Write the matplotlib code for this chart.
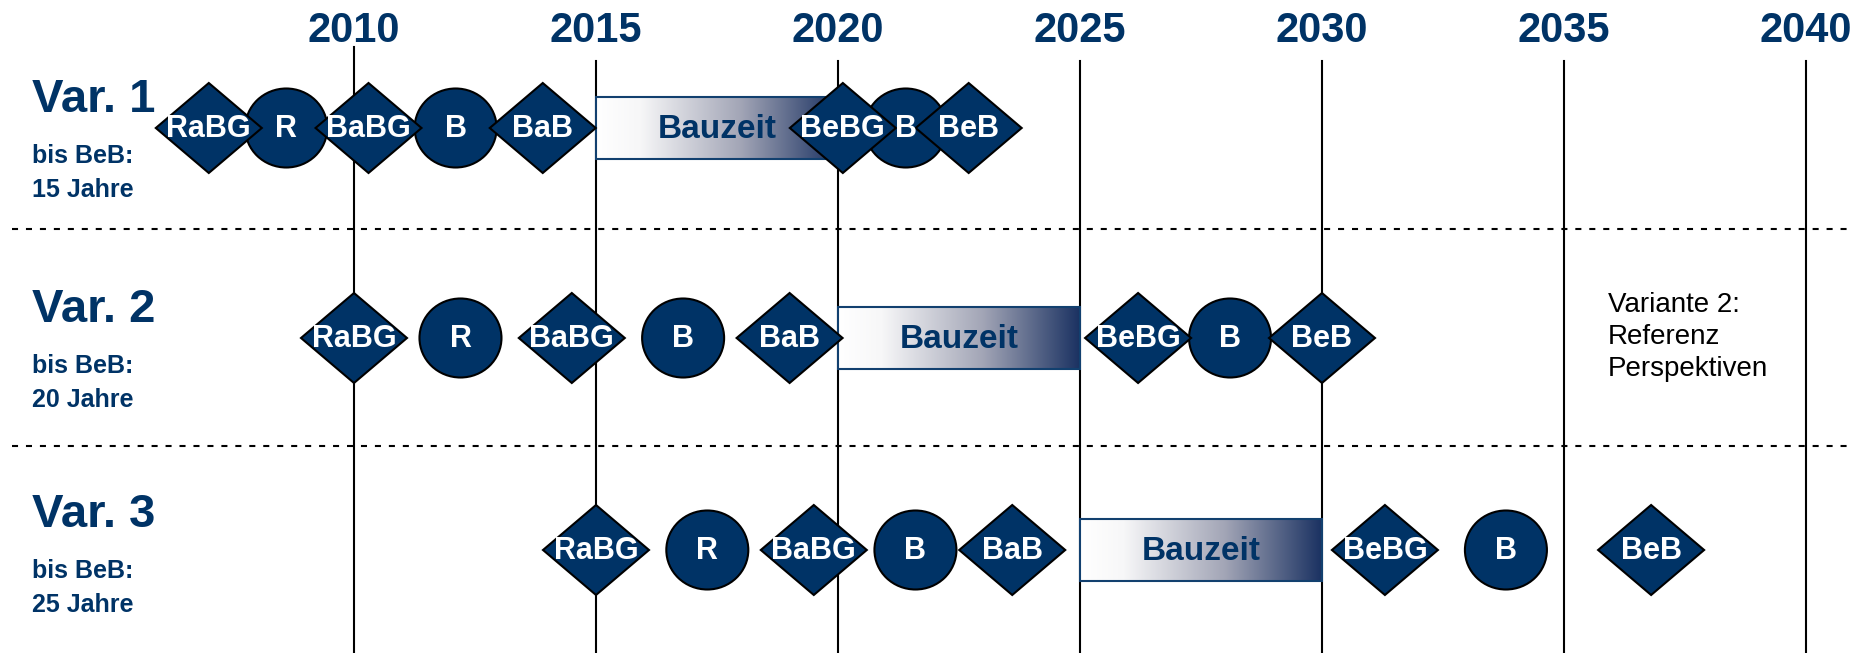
import numpy as np
import matplotlib
matplotlib.use('Agg')
import matplotlib.pyplot as plt
from matplotlib.patches import Polygon, Ellipse, Rectangle
from matplotlib.colors import LinearSegmentedColormap

# Daten: Meilensteine je Variante (Jahr, Kürzel, Form)
years_axis = [2010, 2015, 2020, 2025, 2030, 2035, 2040]

var1_labels = ["RaBG", "R", "BaBG", "B", "BaB", "BeBG", "B", "BeB"]
var1_years = [2007.0, 2008.6, 2010.3, 2012.1, 2013.9, 2020.1, 2021.4, 2022.7]
var1_bau = (2015, 2020)

var2_labels = ["RaBG", "R", "BaBG", "B", "BaB", "BeBG", "B", "BeB"]
var2_years = [2010.0, 2012.2, 2014.5, 2016.8, 2019.0, 2026.2, 2028.1, 2030.0]
var2_bau = (2020, 2025)

var3_labels = ["RaBG", "R", "BaBG", "B", "BaB", "BeBG", "B", "BeB"]
var3_years = [2015.0, 2017.3, 2019.5, 2021.6, 2023.6, 2031.3, 2033.8, 2036.8]
var3_bau = (2025, 2030)

shapes = ["d", "o", "d", "o", "d", "d", "o", "d"]

row_titles = ["Var. 1", "Var. 2", "Var. 3"]
row_sub = ["bis BeB:\n15 Jahre", "bis BeB:\n20 Jahre", "bis BeB:\n25 Jahre"]

navy = '#003366'
px_per_year = 48.4
x0_px = 354  # Pixel von 2010

W, H = 1854, 653
fig = plt.figure(figsize=(W / 100, H / 100), dpi=100)
ax = fig.add_axes([0, 0, 1, 1])
ax.set_xlim(2010 - x0_px / px_per_year, 2010 + (W - x0_px) / px_per_year)
ax.set_ylim(H, 0)
ax.axis('off')

# Jahresachse oben + senkrechte Linien
for yr in years_axis:
    top = 47 if yr == 2010 else 61
    ax.plot([yr, yr], [top, H], color='black', lw=1.5, zorder=1)
    ax.text(yr, 42, str(yr), ha='center', va='baseline', fontsize=30,
            fontweight='bold', color=navy, family='Liberation Sans')

# gestrichelte Trennlinien
x_left = ax.get_xlim()[0] + 12 / px_per_year
for yy in [229, 446]:
    ax.plot([x_left, ax.get_xlim()[1]], [yy, yy], color='black', lw=1.5,
            linestyle=(0, (2.9, 3.8)), zorder=1)

cmap = LinearSegmentedColormap.from_list(
    'bau', [(0, '#ffffff'), (0.18, '#f7f7f8'), (0.6, '#a2a5b6'), (1, '#1b3262')])
grad = np.linspace(0, 1, 256).reshape(1, -1)

rows = [(var1_years, var1_labels, var1_bau, 128, 112),
        (var2_years, var2_labels, var2_bau, 338, 322),
        (var3_years, var3_labels, var3_bau, 550, 527)]

hw = 53 / px_per_year   # halbe Breite Raute
hh = 45                 # halbe Höhe Raute
cw = 82 / px_per_year   # Kreisbreite
ch = 79

for i, (yrs, labs, bau, yc, ytitle) in enumerate(rows):
    # Bauzeit-Balken
    b0, b1 = bau
    ax.imshow(grad, cmap=cmap, aspect='auto', extent=(b0, b1, yc + 31, yc - 31),
              zorder=2, interpolation='bicubic')
    ax.add_patch(Rectangle((b0, yc - 31), b1 - b0, 62, fill=False,
                           edgecolor='#12406f', lw=1.5, zorder=2.5))
    ax.text((b0 + b1) / 2, yc + 1, "Bauzeit", ha='center', va='center', fontsize=24,
            fontweight='bold', color=navy, family='Liberation Sans', zorder=2.6)

    for x, lab, s in zip(yrs, labs, shapes):
        if s == 'o':
            ax.add_patch(Ellipse((x, yc), cw, ch, facecolor=navy, edgecolor='black',
                                 lw=1.5, zorder=3))
        else:
            ax.add_patch(Polygon([(x - hw, yc), (x, yc - hh), (x + hw, yc), (x, yc + hh)],
                                 closed=True, facecolor=navy, edgecolor='black',
                                 lw=1.5, zorder=4))
    for x, lab in zip(yrs, labs):
        ax.text(x, yc + 1, lab, ha='center', va='center', fontsize=22,
                fontweight='bold', color='white', family='Liberation Sans', zorder=6)

    # Beschriftung links
    xl = ax.get_xlim()[0] + 32 / px_per_year
    ax.text(xl, ytitle, row_titles[i], ha='left', va='baseline', fontsize=34,
            fontweight='bold', color=navy, family='Liberation Sans')
    sub1, sub2 = row_sub[i].split('\n')
    ax.text(xl, ytitle + 51, sub1, ha='left', va='baseline', fontsize=18,
            fontweight='bold', color=navy, family='Liberation Sans')
    ax.text(xl, ytitle + 85, sub2, ha='left', va='baseline', fontsize=18,
            fontweight='bold', color=navy, family='Liberation Sans')

# Hinweis rechts
note = ["Variante 2:", "Referenz", "Perspektiven"]
xn = ax.get_xlim()[0] + 1608 / px_per_year
for k, line in enumerate(note):
    ax.text(xn, 312 + 32 * k, line, ha='left', va='baseline', fontsize=20,
            color='black', family='Liberation Sans')

ax.set_ylim(H, 0)
fig.savefig('out.png', dpi=100)
